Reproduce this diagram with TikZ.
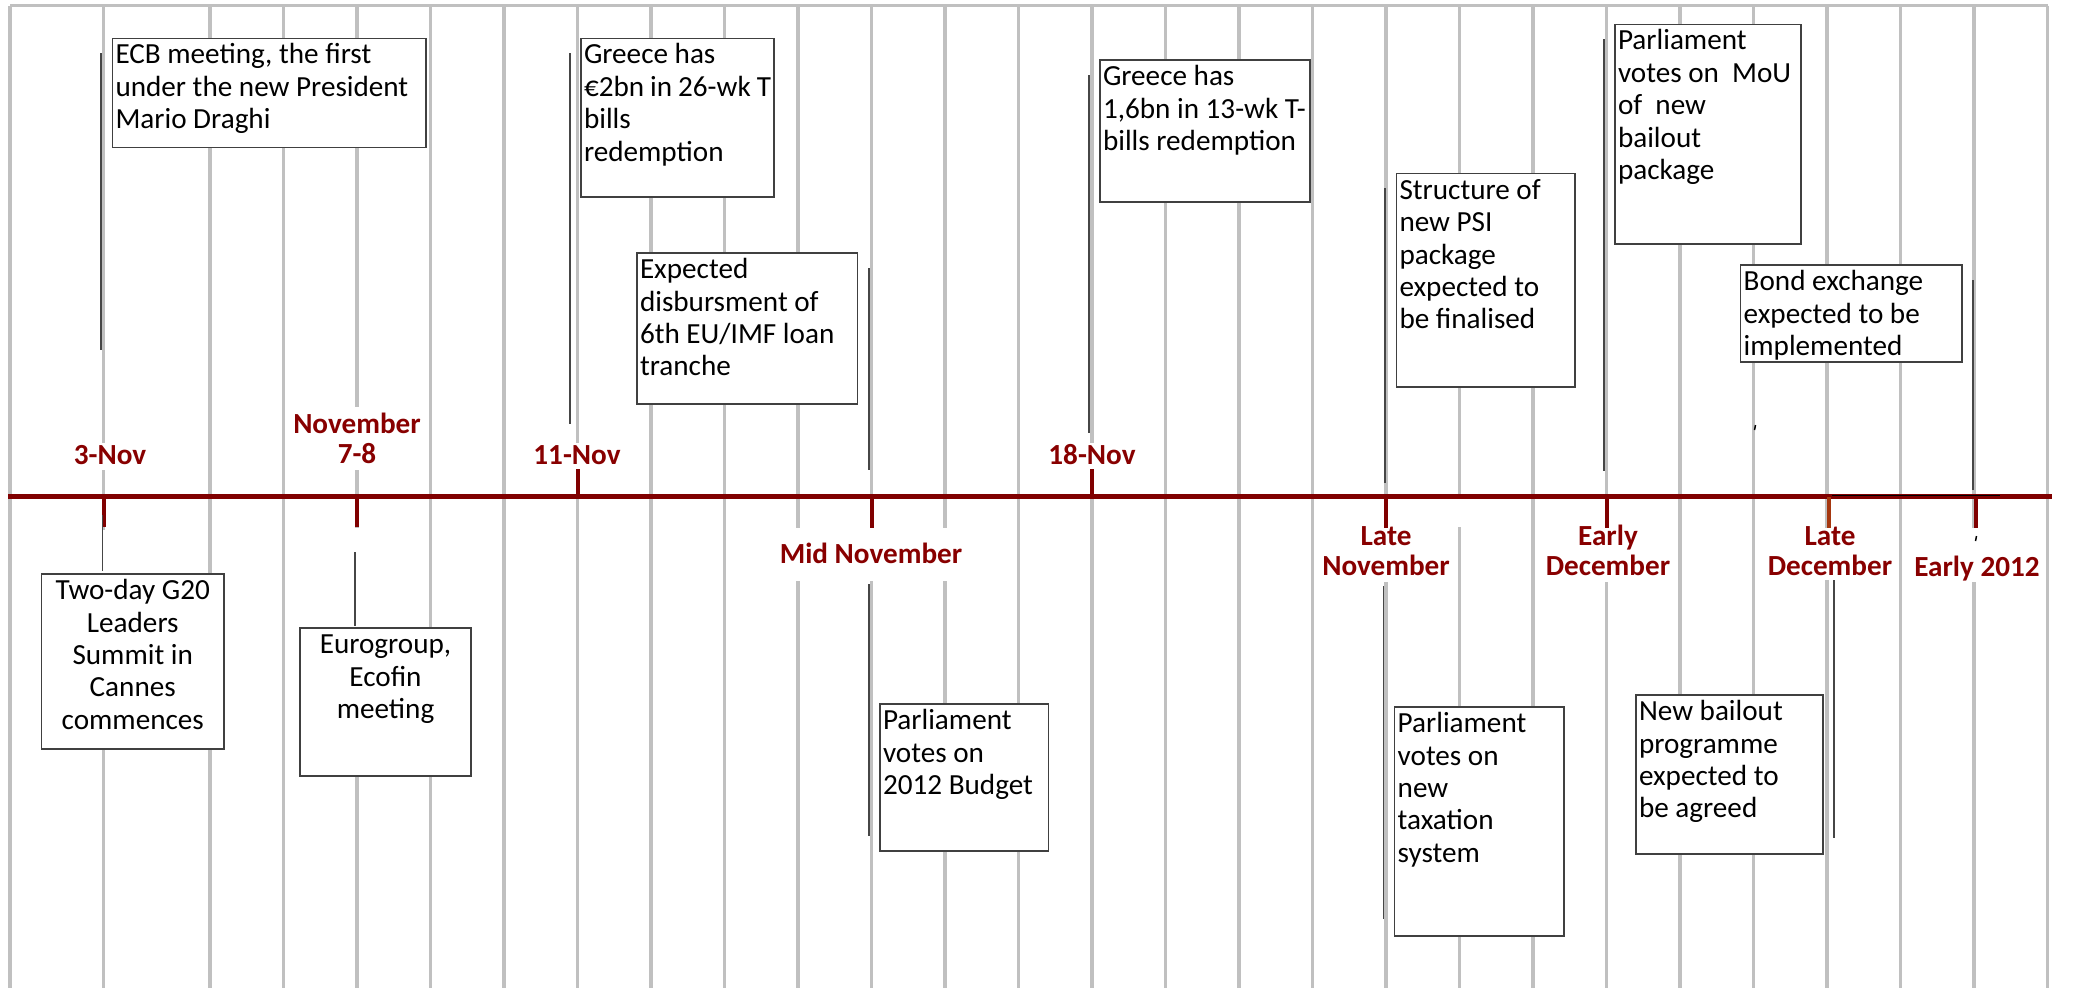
\documentclass[tikz,border=0pt]{standalone}
\usepackage{fontspec}
\setmainfont{Carlito}
\usetikzlibrary{calc}
\definecolor{gridgray}{RGB}{192,192,192}
\definecolor{tlred}{RGB}{128,0,0}
\definecolor{lblred}{RGB}{136,0,0}
\definecolor{tickbrown}{RGB}{165,55,15}
\definecolor{connc}{RGB}{70,70,70}
\definecolor{boxc}{RGB}{64,64,64}
\tikzset{
  gridline/.style={draw=gridgray, line width=0.33mm},
  evb/.style={draw=boxc, line width=0.15mm, fill=white, inner sep=0.3mm, outer sep=0pt,
    font=\fontsize{8.3}{9.21}\selectfont, text=black},
  conn/.style={draw=connc, line width=0.15mm},
  tline/.style={draw=tlred, line width=0.45mm},
  tickmark/.style={draw=tlred, line width=0.4mm},
  lbl/.style={text=lblred, font=\fontsize{8.3}{8.8}\selectfont\bfseries, inner sep=0pt, anchor=base},
  gap/.style={fill=white, draw=none}
}
\newcommand{\evnode}[6]{\node[evb, anchor=north west] (#1) at (#2,#3) {\parbox[c][#5][t]{#4}{#6}};}
\begin{document}
\begin{tikzpicture}[x=0.1mm,y=-0.1mm]
\useasboundingbox (0,0) rectangle (2076,988);
% grid
\draw[gridline] (10,5.5) -- (2047.5,5.5);
\draw[gridline] (10,5.5) -- (10,988);
\draw[gridline] (103.5,5.5) -- (103.5,988);
\foreach \k in {0,...,25} \draw[gridline] ({210+73.5*\k},5.5) -- ({210+73.5*\k},988);
% gaps behind labels
\fill[gap] (90,443) rectangle (125,470);
\fill[gap] (300,407) rectangle (415,470);
\fill[gap] (550,443) rectangle (605,469);
\fill[gap] (1065,443) rectangle (1120,469);
\fill[gap] (95,530) rectangle (112,573);
\fill[gap] (340,528) rectangle (375,628);
\fill[gap] (760,528) rectangle (980,581);
\fill[gap] (1370,528) rectangle (1400,582);
\fill[gap] (1450,499) rectangle (1470,527);
\fill[gap] (1590,528) rectangle (1625,582);
\fill[gap] (1815,528) rectangle (1845,580);
\fill[gap] (1960,528) rectangle (1990,582);
% event boxes
\evnode{ecb}{112.5}{38.3}{30.75mm}{10.34mm}{\raggedright\strut ECB meeting, the first\\under the new President\\Mario Draghi}
\evnode{grA}{581}{38.3}{18.7mm}{15.27mm}{\raggedright\strut Greece has\\€2bn in 26-wk T\\bills\\redemption}
\evnode{exd}{637}{253}{21.46mm}{14.5mm}{\raggedright\strut Expected\\disbursment of\\6th EU/IMF loan\\tranche}
\evnode{grB}{1100}{60}{20.4mm}{13.6mm}{\raggedright\strut Greece has\\1,6bn in 13-wk T-\\bills redemption}
\evnode{psi}{1396.5}{173.7}{17.25mm}{20.73mm}{\raggedright\strut Structure of\\new PSI\\package\\expected to\\be finalised}
\evnode{mou}{1615}{24.3}{18.0mm}{21.37mm}{\raggedright\strut Parliament\\votes on\ \ MoU\\of\ \ new\\bailout\\package}
\evnode{bond}{1740.7}{265}{21.53mm}{9.1mm}{\raggedright\strut Bond exchange\\expected to be\\implemented}
\evnode{gtw}{41.5}{574}{17.65mm}{16.9mm}{\centering\strut Two-day G20\\Leaders\\Summit in\\Cannes\\commences}
\evnode{euro}{300}{628}{16.5mm}{14.2mm}{\centering\strut Eurogroup,\\Ecofin\\meeting}
\evnode{bud}{880}{704}{16.27mm}{14.1mm}{\raggedright\strut Parliament\\votes on\\2012 Budget}
\evnode{tax}{1394.7}{707}{16.33mm}{22.3mm}{\raggedright\strut Parliament\\votes on\\new\\taxation\\system}
\evnode{bail}{1636}{695}{18.1mm}{15.3mm}{\raggedright\strut New bailout\\programme\\expected to\\be agreed}
% timeline
\coordinate (tlL) at (8,496.5);
\coordinate (tlR) at (2052,496.5);
\draw[tline] (tlL) -- (tlR);
\coordinate (tA1) at (103.5,496.5); \coordinate (tA2) at (103.5,527);
\coordinate (tB1) at (357,496.5);   \coordinate (tB2) at (357,527);
\coordinate (tC1) at (577.5,496.5); \coordinate (tC2) at (577.5,469);
\coordinate (tD1) at (871.5,496.5); \coordinate (tD2) at (871.5,528);
\coordinate (tE1) at (1092,496.5);  \coordinate (tE2) at (1092,469);
\coordinate (tF1) at (1386,496.5);  \coordinate (tF2) at (1386,528);
\coordinate (tG1) at (1607,496.5);  \coordinate (tG2) at (1607,528);
\coordinate (tH1) at (1829,496.5);  \coordinate (tH2) at (1829,528);
\coordinate (tI1) at (1976,496.5);  \coordinate (tI2) at (1976,528);
\foreach \t in {A,B,C,D,E,F,G,I} \draw[tickmark] (t\t1) -- (t\t2);
\draw[tickmark, draw=tickbrown] (tH1) -- (tH2);
\coordinate (blA) at (1832,495); \coordinate (blB) at (2000,495);
\draw[draw=black, line width=0.1mm] (blA) -- (blB);
% connectors
\coordinate (cecbA) at (101,53);    \coordinate (cecbB) at (101,350);
\coordinate (cgrAA) at (570,53);    \coordinate (cgrAB) at (570,424);
\coordinate (cexdA) at (869,268);   \coordinate (cexdB) at (869,470);
\coordinate (cgrBA) at (1089,75);   \coordinate (cgrBB) at (1089,433);
\coordinate (cpsiA) at (1385,188);  \coordinate (cpsiB) at (1385,483);
\coordinate (cmouA) at (1604,39);   \coordinate (cmouB) at (1604,471);
\coordinate (cbondA) at (1973,280); \coordinate (cbondB) at (1973,490);
\coordinate (cgtwA) at (102.7,515); \coordinate (cgtwB) at (102.7,571);
\coordinate (ceuroA) at (355,552);  \coordinate (ceuroB) at (355,626);
\coordinate (cbudA) at (869,584);   \coordinate (cbudB) at (869,836);
\coordinate (ctaxA) at (1383.6,586); \coordinate (ctaxB) at (1383.6,919);
\coordinate (cbailA) at (1834,580); \coordinate (cbailB) at (1834,838);
\foreach \c in {ecb,grA,exd,grB,psi,mou,bond,gtw,euro,bud,tax,bail} \draw[conn] (c\c A) -- (c\c B);
\coordinate (mkA1) at (1755.5,425); \coordinate (mkA2) at (1754.5,430);
\coordinate (mkB1) at (1976.5,536); \coordinate (mkB2) at (1975.5,541);
\draw[conn, draw=black] (mkA1) -- (mkA2);
\draw[conn, draw=black] (mkB1) -- (mkB2);
% labels
\node[lbl] (l3nov) at (110,464) {\parbox[t]{30mm}{\centering 3-Nov}};
\node[lbl] (l78) at (357,433) {\parbox[t]{30mm}{\centering November\\7-8}};
\node[lbl] (l11) at (577,464) {\parbox[t]{30mm}{\centering 11-Nov}};
\node[lbl] (l18) at (1092,464) {\parbox[t]{30mm}{\centering 18-Nov}};
\node[lbl] (lmid) at (871,563) {\parbox[t]{30mm}{\centering Mid November}};
\node[lbl] (llnov) at (1386,545) {\parbox[t]{30mm}{\centering Late\\November}};
\node[lbl] (ledec) at (1608,545) {\parbox[t]{30mm}{\centering Early\\December}};
\node[lbl] (lldec) at (1830,545) {\parbox[t]{30mm}{\centering Late\\December}};
\node[lbl] (l2012) at (1977,576) {\parbox[t]{30mm}{\centering Early 2012}};
\end{tikzpicture}
\end{document}
